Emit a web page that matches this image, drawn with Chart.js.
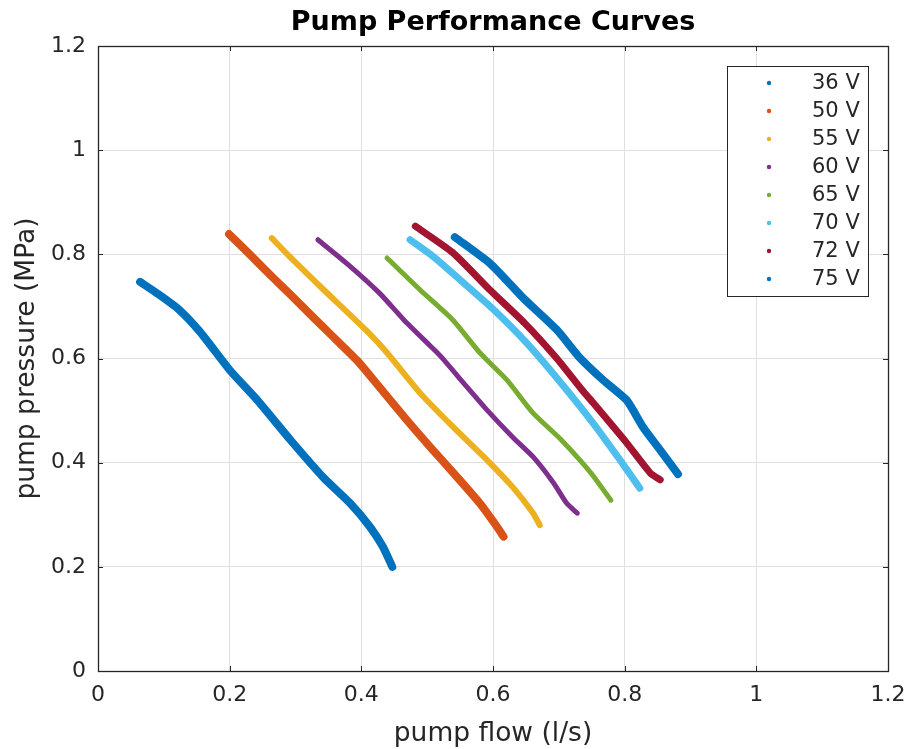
<!DOCTYPE html>
<html lang="en">
<head>
  <meta charset="UTF-8" />
  <title>Pump Performance Curves</title>
  <script src="https://cdn.jsdelivr.net/npm/chart.js"></script>
  <style>
    html, body { margin: 0; padding: 0; background: #fff; }
    #wrap { width: 912px; height: 749px; }
  </style>
</head>
<body>
<div id="wrap">
  <canvas id="pumpChart" width="912" height="749"></canvas>
</div>
<script>
  // supply voltages and MATLAB default line colours
  const voltages = ['36 V', '50 V', '55 V', '60 V', '65 V', '70 V', '72 V', '75 V'];
  const colors = ['#0072BD', '#D95319', '#EDB120', '#7E2F8E', '#77AC30', '#4DBEEE', '#A2142F', '#0072BD'];
  const widths = [8, 8, 6, 5, 5, 7, 7, 8];

  // measured flow (l/s) and pressure (MPa) for each voltage
  const flow36 = [0.064, 0.090, 0.122, 0.155, 0.200, 0.242, 0.292, 0.342, 0.383, 0.413, 0.433, 0.447];
  const pres36 = [0.747, 0.725, 0.695, 0.651, 0.578, 0.520, 0.444, 0.372, 0.322, 0.277, 0.238, 0.200];
  const flow50 = [0.199, 0.232, 0.266, 0.292, 0.327, 0.352, 0.393, 0.423, 0.469, 0.504, 0.545, 0.580, 0.606, 0.616];
  const pres50 = [0.839, 0.798, 0.755, 0.723, 0.679, 0.648, 0.597, 0.552, 0.482, 0.431, 0.373, 0.322, 0.277, 0.258];
  const flow55 = [0.264, 0.290, 0.342, 0.409, 0.439, 0.489, 0.539, 0.591, 0.630, 0.661, 0.671];
  const pres55 = [0.831, 0.797, 0.733, 0.652, 0.611, 0.534, 0.469, 0.405, 0.353, 0.303, 0.280];
  const flow60 = [0.334, 0.383, 0.428, 0.464, 0.504, 0.520, 0.560, 0.591, 0.630, 0.661, 0.692, 0.712, 0.728];
  const pres60 = [0.828, 0.777, 0.725, 0.675, 0.625, 0.605, 0.546, 0.501, 0.449, 0.411, 0.361, 0.322, 0.303];
  const flow65 = [0.439, 0.489, 0.539, 0.580, 0.621, 0.661, 0.702, 0.732, 0.752, 0.779];
  const pres65 = [0.793, 0.732, 0.674, 0.611, 0.559, 0.495, 0.446, 0.405, 0.375, 0.328];
  const flow70 = [0.474, 0.510, 0.550, 0.600, 0.651, 0.702, 0.752, 0.793, 0.823];
  const pres70 = [0.828, 0.795, 0.751, 0.695, 0.630, 0.555, 0.476, 0.405, 0.351];
  const flow72 = [0.482, 0.539, 0.595, 0.648, 0.697, 0.735, 0.752, 0.803, 0.839, 0.854];
  const pres72 = [0.854, 0.803, 0.732, 0.668, 0.600, 0.540, 0.515, 0.438, 0.380, 0.367];
  const flow75 = [0.542, 0.596, 0.646, 0.697, 0.730, 0.767, 0.803, 0.828, 0.854, 0.881];
  const pres75 = [0.833, 0.782, 0.716, 0.655, 0.604, 0.559, 0.520, 0.468, 0.424, 0.378];

  const flows = [flow36, flow50, flow55, flow60, flow65, flow70, flow72, flow75];
  const pressures = [pres36, pres50, pres55, pres60, pres65, pres70, pres72, pres75];

  const xTicks = [0, 0.2, 0.4, 0.6, 0.8, 1, 1.2];
  const xTickLabels = ['0', '0.2', '0.4', '0.6', '0.8', '1', '1.2'];
  const yTicks = [0, 0.2, 0.4, 0.6, 0.8, 1, 1.2];
  const yTickLabels = ['0', '0.2', '0.4', '0.6', '0.8', '1', '1.2'];

  const AXIS = '#262626';
  const FONT = "'DejaVu Sans', sans-serif";

  const datasets = voltages.map((label, i) => ({
    label,
    data: flows[i].map((x, j) => ({ x, y: pressures[i][j] })),
    showLine: true,
    borderColor: colors[i],
    backgroundColor: colors[i],
    borderWidth: widths[i],
    borderJoinStyle: 'round',
    borderCapStyle: 'round',
    tension: 0.2,
    pointRadius: 0,
    order: -i
  }));

  // box around the axes with inward tick marks, like MATLAB "box on"
  const axesFrame = {
    id: 'axesFrame',
    afterDatasetsDraw(chart) {
      const { ctx, chartArea: a, scales } = chart;
      const len = 5;
      ctx.save();
      ctx.strokeStyle = AXIS;
      ctx.lineWidth = 1;
      ctx.beginPath();
      xTicks.forEach(v => {
        const x = Math.round(scales.x.getPixelForValue(v)) + 0.5;
        ctx.moveTo(x, a.bottom); ctx.lineTo(x, a.bottom - len);
        ctx.moveTo(x, a.top); ctx.lineTo(x, a.top + len);
      });
      yTicks.forEach(v => {
        const y = Math.round(scales.y.getPixelForValue(v)) + 0.5;
        ctx.moveTo(a.left, y); ctx.lineTo(a.left + len, y);
        ctx.moveTo(a.right, y); ctx.lineTo(a.right - len, y);
      });
      ctx.stroke();
      ctx.lineWidth = 1.3;
      ctx.strokeRect(Math.round(a.left) + 0.5, Math.round(a.top) + 0.5,
        Math.round(a.right - a.left), Math.round(a.bottom - a.top));
      ctx.restore();
    }
  };

  // title centred over the plot area
  const axesTitle = {
    id: 'axesTitle',
    afterDraw(chart) {
      const { ctx, chartArea: a } = chart;
      ctx.save();
      ctx.font = 'bold 27px ' + FONT;
      ctx.fillStyle = '#000';
      ctx.textAlign = 'center';
      ctx.textBaseline = 'middle';
      ctx.fillText('Pump Performance Curves', (a.left + a.right) / 2, 23);
      ctx.restore();
    }
  };

  // legend box in the upper right corner of the axes
  const boxLegend = {
    id: 'boxLegend',
    afterDraw(chart) {
      const { ctx, chartArea: a } = chart;
      const w = 141, rowH = 28, h = 230;
      const left = a.right - 20 - w, top = a.top + 20;
      ctx.save();
      ctx.fillStyle = '#fff';
      ctx.fillRect(left, top, w, h);
      ctx.strokeStyle = AXIS;
      ctx.lineWidth = 1;
      ctx.strokeRect(left + 0.5, top + 0.5, w, h);
      ctx.font = '21px ' + FONT;
      ctx.textBaseline = 'middle';
      ctx.textAlign = 'left';
      chart.data.datasets.forEach((ds, i) => {
        const cy = top + 17 + i * rowH;
        ctx.fillStyle = ds.borderColor;
        ctx.beginPath();
        ctx.arc(left + 42, cy, 2.2, 0, Math.PI * 2);
        ctx.fill();
        ctx.fillStyle = AXIS;
        ctx.fillText(ds.label, left + 85, cy + 1);
      });
      ctx.restore();
    }
  };

  new Chart(document.getElementById('pumpChart'), {
    type: 'scatter',
    data: { datasets },
    options: {
      responsive: false,
      animation: false,
      devicePixelRatio: 1,
      layout: { padding: { left: 0, right: 24, top: 46, bottom: 0 } },
      plugins: {
        legend: { display: false },
        tooltip: { enabled: false },
        title: { display: false }
      },
      scales: {
        x: {
          type: 'linear',
          min: 0, max: 1.2,
          afterFit(scale) {
            scale.height = 78;
            scale.paddingLeft = 0;
            scale.paddingRight = 0;
          },
          afterBuildTicks(scale) { scale.ticks = xTicks.map(v => ({ value: v })); },
          ticks: {
            padding: 11,
            color: AXIS,
            font: { family: FONT, size: 22 },
            maxRotation: 0,
            callback: (v, i) => xTickLabels[i]
          },
          grid: { color: '#dfdfdf', lineWidth: 1, drawTicks: false },
          border: { display: false },
          title: {
            display: true,
            text: 'pump flow (l/s)',
            color: AXIS,
            font: { family: FONT, size: 26.5, lineHeight: 1.1 },
            padding: { top: 0, bottom: 0 }
          }
        },
        y: {
          type: 'linear',
          min: 0, max: 1.2,
          afterFit(scale) {
            scale.width = 98;
            scale.paddingTop = 0;
            scale.paddingBottom = 0;
          },
          afterBuildTicks(scale) { scale.ticks = yTicks.map(v => ({ value: v })); },
          ticks: {
            padding: 12,
            color: AXIS,
            font: { family: FONT, size: 22 },
            callback: (v, i) => yTickLabels[i]
          },
          grid: { color: '#dfdfdf', lineWidth: 1, drawTicks: false },
          border: { display: false },
          title: {
            display: true,
            text: 'pump pressure (MPa)',
            color: AXIS,
            font: { family: FONT, size: 26.5, lineHeight: 1.1 },
            padding: { top: 13, bottom: 0 }
          }
        }
      }
    },
    plugins: [axesFrame, axesTitle, boxLegend]
  });
</script>
</body>
</html>
